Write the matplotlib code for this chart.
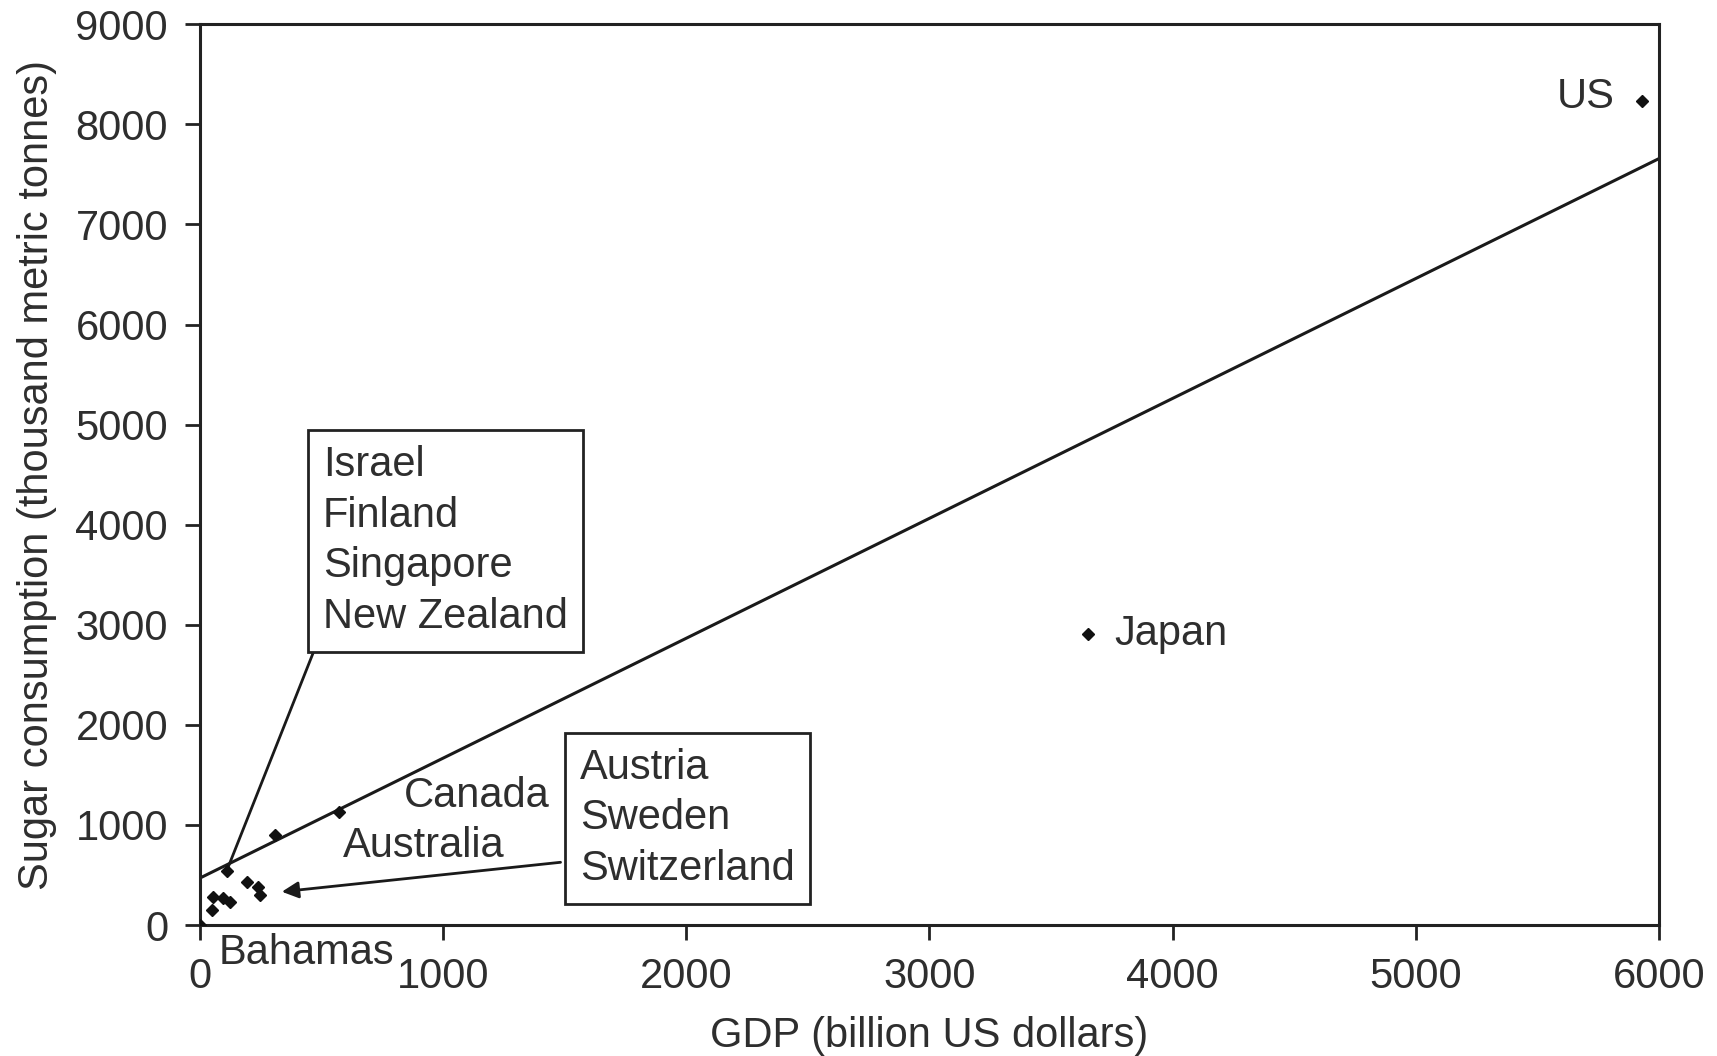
import numpy as np
import matplotlib
matplotlib.use("Agg")
import matplotlib.pyplot as plt

plt.rcParams['font.family'] = ['Liberation Sans', 'DejaVu Sans']

# GDP (billion US$) vs sugar consumption (thousand metric tonnes)
countries = ['Bahamas', 'Small1', 'Small2', 'Small3', 'Small4', 'NZ group',
             'Aus group 1', 'Aus group 2', 'Aus group 3', 'Australia', 'Canada',
             'Japan', 'US']
gdp = [0, 49, 53, 95, 123, 111, 193, 239, 247, 310, 570, 3650, 5930]
sugar = [0, 150, 280, 270, 230, 540, 430, 380, 300, 900, 1130, 2910, 8230]

# fitted line: sugar = a + b * gdp
fit_a = 470
fit_b = 1.198

box1_names = ['Israel', 'Finland', 'Singapore', 'New Zealand']
box2_names = ['Austria', 'Sweden', 'Switzerland']

txt = '#2e2e2e'
fs = 30

fig = plt.figure(figsize=(17.17, 10.56), dpi=100)
ax = fig.add_axes([0.1165, 0.124, 0.8497, 0.853])

xs = np.array([0, 6000])
ax.plot(xs, fit_a + fit_b * xs, color='#1a1a1a', lw=2.2, zorder=2)
ax.plot(gdp, sugar, linestyle='none', marker='D', markersize=6.5,
        color='#111111', zorder=3)

# labels next to single points
ax.text(5819, 8272, 'US', fontsize=fs, color=txt, ha='right', va='center')
ax.text(3761, 2907, 'Japan', fontsize=fs, color=txt, ha='left', va='center')
ax.text(840, 1290, 'Canada', fontsize=fs, color=txt, ha='left', va='center')
ax.text(588, 790, 'Australia', fontsize=fs, color=txt, ha='left', va='center')
ax.text(78, -280, 'Bahamas', fontsize=fs, color=txt, ha='left', va='center',
        clip_on=False)

# box 1 with plain leader line
ax.text(506, 3836, '\n'.join(box1_names), fontsize=fs, color=txt,
        ha='left', va='center', linespacing=1.34,
        bbox=dict(boxstyle='square,pad=0.36', fc='white', ec='#222222', lw=2))
ax.plot([473, 111], [2767, 550], color='#1a1a1a', lw=2, zorder=2)

# box 2 with arrow
ax.text(1564, 1069, '\n'.join(box2_names), fontsize=fs, color=txt,
        ha='left', va='center', linespacing=1.34,
        bbox=dict(boxstyle='square,pad=0.36', fc='white', ec='#222222', lw=2))
ax.annotate('', xy=(325, 330), xytext=(1494, 630),
            arrowprops=dict(arrowstyle='-|>', color='#1a1a1a', lw=2,
                            mutation_scale=25))

ax.set_xlim(0, 6000)
ax.set_ylim(0, 9000)
ax.set_xticks(np.arange(0, 6001, 1000))
ax.set_yticks(np.arange(0, 9001, 1000))
ax.tick_params(direction='out', length=11, width=2, labelsize=fs,
               labelcolor=txt, color='#222222', pad=12)
for s in ax.spines.values():
    s.set_linewidth(2.2)
    s.set_color('#222222')

ax.set_xlabel('GDP (billion US dollars)', fontsize=fs, color=txt, labelpad=14)
ax.set_ylabel('Sugar consumption (thousand metric tonnes)', fontsize=fs,
              color=txt, labelpad=13)

fig.savefig('out.png', dpi=100)
